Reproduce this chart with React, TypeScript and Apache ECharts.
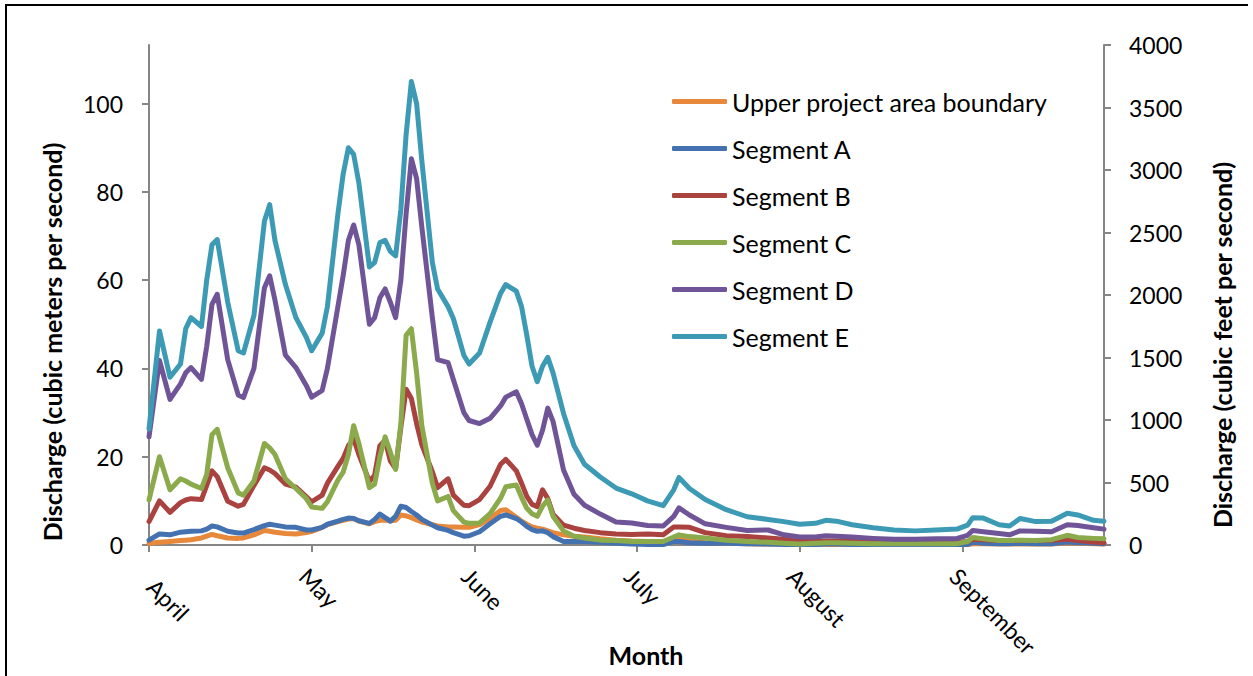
import React, { useEffect, useRef } from "react";
import * as echarts from "echarts";

// Day index since April 1 for each sampled reading
const days = [
  0, 2, 4, 6, 7, 8, 10, 11, 12, 13,
  15, 17, 18, 20, 22, 23, 24, 26, 28, 30,
  31, 33, 34, 36, 37, 38, 39, 40, 42, 43,
  44, 45, 46, 47, 48, 49, 50, 51, 52, 54, 55,
  57, 58, 60, 61, 63, 65, 67, 68, 70, 71,
  72, 73, 74, 75, 76, 77, 79, 81, 83, 86,
  89, 92, 95, 98, 100, 101, 103, 106, 110, 114,
  118, 121, 124, 127, 129, 131, 134, 138, 142, 146,
  150, 154, 156, 157, 159, 162, 164, 166, 169, 172,
  175, 177, 180, 182,
];

// Discharge, cubic meters per second
const upperBoundary = [
  0.4, 0.6, 0.8, 1, 1.1, 1.2, 1.6, 2, 2.4, 2.1,
  1.6, 1.5, 1.6, 2.3, 3.3, 3.1, 2.9, 2.6, 2.5, 2.8,
  3.1, 4, 4.6, 5.3, 5.6, 5.9, 6, 5.4, 4.8, 5.3,
  5.6, 5.6, 5.5, 5.6, 6.8, 6.6, 6.2, 5.7, 5.2, 4.6, 4.3,
  4.1, 4.1, 4, 4, 4.6, 6, 7.8, 8, 6.3, 5.4,
  4.7, 4.1, 3.8, 3.6, 3.2, 2.8, 2.3, 2, 1.8, 1.4,
  1.1, 0.9, 0.8, 0.8, 1.2, 1.3, 0.9, 0.5, 0.4, 0.3,
  0.2, 0.2, 0.1, 0.1, 0.1, 0.1, 0.1, 0.1, 0.1, 0.1,
  0.1, 0.1, 0.1, 0.3, 0.3, 0.2, 0.2, 0.2, 0.2, 0.2,
  0.5, 0.4, 0.3, 0.2,
];

const segmentA = [
  1.1, 2.5, 2.3, 2.9, 3, 3.1, 3.2, 3.6, 4.3, 4.1,
  3.1, 2.7, 2.7, 3.5, 4.4, 4.7, 4.5, 4.1, 4, 3.4,
  3.4, 4, 4.7, 5.4, 5.8, 6.1, 6, 5.5, 4.9, 5.8,
  7, 6.2, 5.4, 6.5, 8.8, 8.5, 7.6, 6.8, 5.8, 4.5, 3.9,
  3.3, 2.8, 2, 2.1, 3, 4.8, 6.5, 6.8, 6, 5.2,
  4.2, 3.5, 3.1, 3.2, 2.8, 1.9, 0.8, 0.8, 0.8, 0.6,
  0.4, 0.2, 0.1, 0.1, 0.8, 0.8, 0.5, 0.4, 0.4, 0.3,
  0.2, 0.1, 0.1, 0.1, 0.2, 0.2, 0.1, 0.1, 0.1, 0.1,
  0.1, 0.1, 0.1, 0.6, 0.4, 0.3, 0.3, 0.4, 0.3, 0.3,
  0.7, 0.5, 0.4, 0.3,
];

const segmentB = [
  5.3, 10, 7.4, 9.6, 10.2, 10.5, 10.3, 13.5, 16.8, 15.5,
  9.9, 8.8, 9.2, 13.5, 17.5, 17, 16.2, 13.8, 13.1, 10.9,
  9.8, 11.3, 14, 17.8, 19.6, 22.5, 24, 20.5, 14.4, 15.8,
  22.5, 23.7, 19, 17.3, 26.7, 35.3, 33.2, 27.5, 22.7, 16.6, 13,
  15, 11.3, 9, 8.9, 10.3, 13.3, 18.3, 19.4, 16.8, 14,
  11, 9.2, 8.7, 12.5, 10.5, 7, 4.5, 3.8, 3.3, 2.8,
  2.5, 2.4, 2.5, 2.3, 4.1, 4.1, 4, 2.8, 2.1, 1.9,
  1.6, 1.3, 0.8, 0.9, 0.9, 0.9, 0.8, 0.7, 0.6, 0.6,
  0.6, 0.6, 0.8, 1.3, 1.2, 1, 1, 1, 1, 1.1,
  1.3, 1, 0.7, 0.5,
];

const segmentC = [
  10.2, 20, 12.5, 15, 14.5, 13.8, 12.8, 16, 25, 26.2,
  17.5, 11.8, 11.3, 14.5, 23, 22, 20.5, 15, 12.8, 10.5,
  8.6, 8.3, 9.8, 14.7, 16.5, 20.5, 27, 23, 13, 13.8,
  20, 24.5, 21, 17.1, 27.5, 47.5, 49, 39, 27, 14, 10,
  11, 7.8, 5.2, 4.9, 5, 7.1, 10.6, 13.2, 13.6, 10.8,
  8.3, 7.1, 6.5, 8.8, 10.2, 6.5, 3.2, 2, 1.6, 1.1,
  1, 0.8, 0.8, 0.8, 1.8, 2.3, 1.9, 1.6, 1.1, 0.8,
  0.6, 0.4, 0.2, 0.4, 0.5, 0.5, 0.4, 0.3, 0.3, 0.3,
  0.3, 0.3, 0.8, 1.7, 1.4, 1, 1, 1.1, 1, 1.2,
  2.2, 1.7, 1.5, 1.4,
];

const segmentD = [
  24.5, 41.8, 33, 36.5, 39, 40.2, 37.5, 45, 54.5, 56.8,
  42, 34, 33.4, 40, 58.3, 61, 55.5, 43, 40.2, 36.1,
  33.5, 35, 40, 54, 61, 69, 72.5, 68, 50, 51.5,
  56, 58, 55, 51.5, 60, 75, 87.5, 83, 72, 51.5, 42,
  41.3, 37.5, 30, 28.2, 27.5, 28.7, 31.5, 33.5, 34.7, 32,
  28.5, 25, 22.6, 26, 31, 28, 17, 11.5, 9, 7,
  5.2, 5, 4.4, 4.3, 6.5, 8.4, 6.8, 4.8, 4, 3.3,
  3.4, 2.3, 1.8, 1.8, 2.1, 2, 1.8, 1.5, 1.3, 1.3,
  1.4, 1.5, 2.2, 3.3, 3, 2.6, 2.3, 3.2, 3.1, 3,
  4.6, 4.4, 3.9, 3.6,
];

const segmentE = [
  26.3, 48.5, 38, 41, 49, 51.5, 49.5, 60, 68, 69.2,
  55, 44, 43.5, 52, 73.4, 77.1, 69, 59, 51.5, 47,
  44, 48, 54, 75, 84, 90, 88.5, 82, 63, 64,
  68.5, 69, 66.5, 65.5, 76, 93, 105, 100, 87, 64, 58,
  54, 51.3, 43, 41, 43.5, 50.5, 57, 59, 57.5, 54,
  47.5, 40.5, 37, 40.5, 42.5, 39, 29.8, 22.5, 18.3, 15.4,
  12.9, 11.6, 10, 8.9, 12.5, 15.3, 12.8, 10.3, 8, 6.4,
  5.8, 5.3, 4.7, 4.9, 5.6, 5.4, 4.6, 3.9, 3.4, 3.2,
  3.4, 3.6, 4.5, 6.2, 6.1, 4.6, 4.3, 6, 5.3, 5.4,
  7.2, 6.8, 5.6, 5.4,
];

const seriesNames = [
  "Upper project area boundary",
  "Segment A",
  "Segment B",
  "Segment C",
  "Segment D",
  "Segment E",
];
const seriesColors = ["#E8883A", "#4472B0", "#AA423F", "#8BAA4B", "#6F5597", "#3D9AB5"];
const seriesValues = [upperBoundary, segmentA, segmentB, segmentC, segmentD, segmentE];

const monthTickDays = [0, 31, 62, 93, 124, 155];
const monthLabels = ["April", "May", "June", "July", "August", "September"];
const leftTicks = [0, 20, 40, 60, 80, 100];
const CFS_PER_CMS = 35.3147;
const rightMax = 4000;
const rightInterval = 500;
const lastDay = 182;

const xTitle = "Month";
const leftTitle = "Discharge (cubic meters per second)";
const rightTitle = "Discharge (cubic feet per second)";

const FONT = "Lato";

export default function App() {
  const ref = useRef<HTMLDivElement>(null);

  useEffect(() => {
    if (!ref.current) return;
    const chart = echarts.init(ref.current, null, { renderer: "svg" });
    const axisLineStyle = { color: "#868686", width: 2 };
    const titleStyle = {
      fill: "#000",
      font: `bold 25px ${FONT}`,
      align: "center",
      verticalAlign: "middle",
    };
    const option: any = {
      animation: false,
      backgroundColor: "#ffffff",
      textStyle: { fontFamily: FONT, color: "#000" },
      grid: { left: 149, right: 149, top: 45, bottom: 131, containLabel: false },
      legend: {
        orient: "vertical",
        left: 667,
        top: 84,
        itemWidth: 55,
        itemHeight: 5,
        itemGap: 22,
        icon: "roundRect",
        data: seriesNames,
        textStyle: { fontFamily: FONT, fontSize: 25, color: "#000", lineHeight: 24 },
      },
      graphic: [
        {
          type: "polyline",
          shape: { points: [[6, 700], [6, 5], [1248, 5]] },
          style: { stroke: "#000", lineWidth: 2, fill: "none" },
          silent: true,
        },
        { type: "text", x: 646, y: 655, style: { ...titleStyle, text: xTitle }, silent: true },
        {
          type: "text",
          x: 52,
          y: 342,
          rotation: Math.PI / 2,
          style: { ...titleStyle, text: leftTitle },
          silent: true,
        },
        {
          type: "text",
          x: 1222,
          y: 345,
          rotation: Math.PI / 2,
          style: { ...titleStyle, text: rightTitle },
          silent: true,
        },
      ],
      xAxis: {
        type: "value",
        min: 0,
        max: lastDay,
        axisLine: { show: true, lineStyle: axisLineStyle },
        axisTick: { show: true, length: 7, lineStyle: axisLineStyle, customValues: monthTickDays },
        splitLine: { show: false },
        axisLabel: {
          customValues: monthTickDays,
          rotate: -45,
          margin: 19,
          align: "left",
          verticalAlign: "top",
          fontFamily: FONT,
          fontSize: 23,
          color: "#000",
          formatter: (v: number) => {
            const i = monthTickDays.indexOf(Math.round(v));
            if (i < 0) return "";
            return i === 0 ? `{first|${monthLabels[i]}}` : monthLabels[i];
          },
          rich: {
            first: { padding: [0, 0, 0, 15], fontFamily: FONT, fontSize: 23, color: "#000" },
          },
        },
      },
      yAxis: [
        {
          type: "value",
          min: 0,
          max: rightMax / CFS_PER_CMS,
          position: "left",
          axisLine: { show: true, lineStyle: axisLineStyle },
          axisTick: { show: true, length: 7, lineStyle: axisLineStyle, customValues: leftTicks },
          splitLine: { show: false },
          axisLabel: {
            customValues: leftTicks,
            margin: 26,
            fontFamily: FONT,
            fontSize: 23,
            color: "#000",
            formatter: (v: number) => String(Math.round(v)),
          },
        },
        {
          type: "value",
          min: 0,
          max: rightMax,
          interval: rightInterval,
          position: "right",
          axisLine: { show: true, lineStyle: axisLineStyle },
          axisTick: { show: true, length: 7, inside: false, lineStyle: axisLineStyle },
          splitLine: { show: false },
          axisLabel: {
            margin: 25,
            fontFamily: FONT,
            fontSize: 23,
            color: "#000",
            formatter: (v: number) => String(v),
          },
        },
      ],
      series: seriesNames.map((name, k) => ({
        name,
        type: "line",
        yAxisIndex: 0,
        showSymbol: false,
        symbol: "none",
        smooth: false,
        color: seriesColors[k],
        lineStyle: { width: 5, color: seriesColors[k], cap: "round", join: "round" },
        data: days.map((d, i) => [d, seriesValues[k][i]]),
        z: 2 + k,
      })),
    };
    chart.setOption(option);
    return () => chart.dispose();
  }, []);

  return (
    <div
      ref={ref}
      style={{ position: "absolute", left: 0, top: 0, width: 1253, height: 676, background: "#fff" }}
    />
  );
}
